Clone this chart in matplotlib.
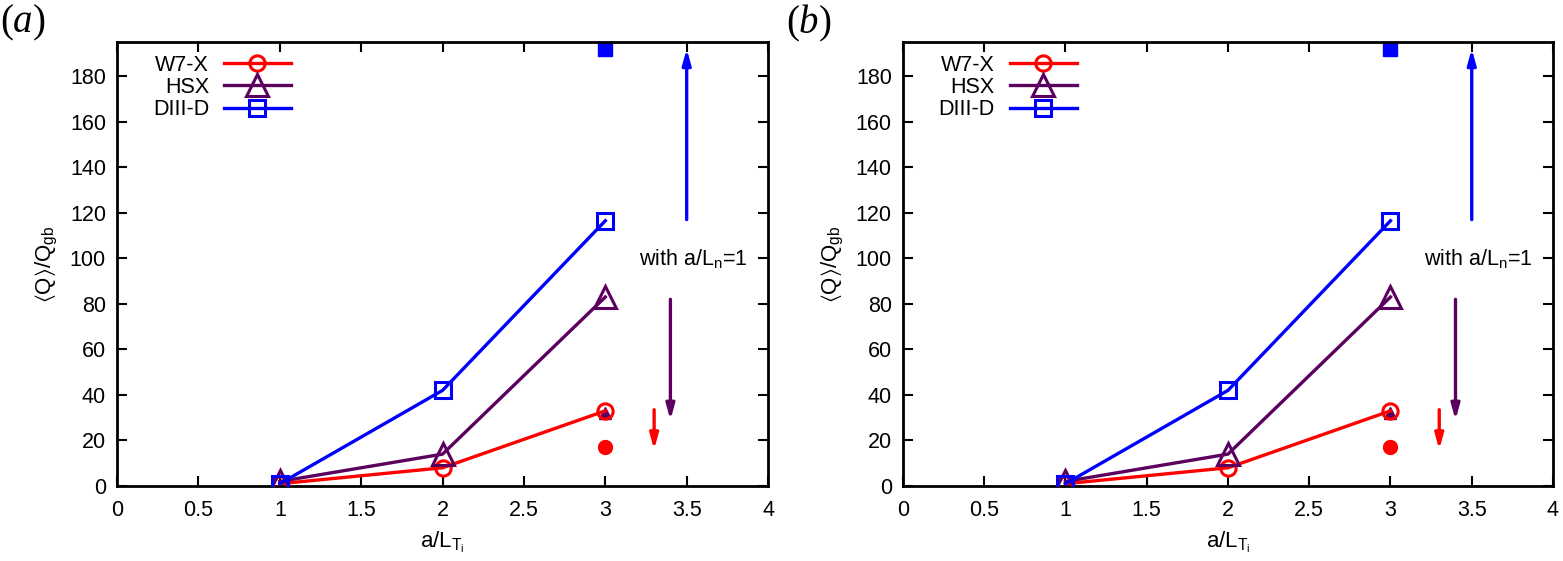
import matplotlib
matplotlib.use('Agg')
import matplotlib.pyplot as plt

plt.rcParams['font.family'] = ['Liberation Sans', 'DejaVu Sans']
plt.rcParams['mathtext.fontset'] = 'custom'
plt.rcParams['mathtext.rm'] = 'Liberation Sans'
plt.rcParams['mathtext.it'] = 'Liberation Serif:italic'
plt.rcParams['mathtext.fallback'] = 'stixsans'

# data
a_LTi = [1, 2, 3]
w7x = [1, 8, 33]
hsx = [2, 14, 83]
d3d = [1, 42, 116.5]
# a/L_n = 1 points at a/L_Ti = 3
x_ln = 3
w7x_ln = 17
hsx_ln = 32
d3d_ln = 192

RED = '#ff0000'
PURPLE = '#5c0060'
BLUE = '#0000ff'


def draw_panel(ax, tag):
  ax.plot(a_LTi, w7x, '-o', color=RED, lw=2.4, ms=11, mfc='none', mew=2.2, label='W7-X', zorder=3)
  ax.plot(a_LTi, hsx, '-^', color=PURPLE, lw=2.4, ms=16, mfc='none', mew=2.2, label='HSX', zorder=3)
  ax.plot(a_LTi, d3d, '-s', color=BLUE, lw=2.4, ms=11, mfc='none', mew=2.2, label='DIII-D', zorder=3)

  ax.plot([x_ln], [w7x_ln], 'o', color=RED, ms=10, clip_on=False)
  ax.plot([x_ln], [hsx_ln], '^', color=PURPLE, ms=9, clip_on=False)
  ax.plot([x_ln], [d3d_ln], 's', color=BLUE, ms=10, clip_on=False)

  # arrows showing the change with a/L_n = 1
  for x0, y0, y1, c in [(3.5, 117, 192, BLUE), (3.4, 82, 29, PURPLE), (3.3, 33.5, 16, RED)]:
    ax.annotate('', xy=(x0, y1), xytext=(x0, y0),
                arrowprops=dict(arrowstyle='-|>,head_length=0.9,head_width=0.25',
                                color=c, lw=2.4, shrinkA=0, shrinkB=0))
  ax.text(3.54, 100, r'with a/L$_{\rm n}$=1', ha='center', va='center', fontsize=15.5)

  ax.set_xlim(0, 4)
  ax.set_ylim(0, 195)
  ax.set_xticks([0, 0.5, 1, 1.5, 2, 2.5, 3, 3.5, 4])
  ax.set_xticklabels(['0', '0.5', '1', '1.5', '2', '2.5', '3', '3.5', '4'])
  ax.set_yticks(range(0, 181, 20))
  ax.tick_params(direction='in', top=True, right=True, length=7, width=1.5, labelsize=15.5)
  ax.tick_params(axis='x', pad=10)
  ax.tick_params(axis='y', pad=8)
  for s in ax.spines.values():
    s.set_linewidth(2)
  ax.set_xlabel(r'a/L$_{\rm T_i}$', fontsize=16, labelpad=6)
  ax.set_ylabel(r'$\langle$Q$\rangle$/Q$_{\rm gb}$', fontsize=16, labelpad=8)

  ax.legend(loc='upper left', markerfirst=False, frameon=False, fontsize=15.5,
            handlelength=3.1, handletextpad=0.7, labelspacing=0.05,
            borderaxespad=0.2, bbox_to_anchor=(0.035, 1.0))


fig = plt.figure(figsize=(15.63, 5.61), dpi=100)
ax1 = fig.add_axes([0.0749, 0.1337, 0.4165, 0.7914])
ax2 = fig.add_axes([0.5777, 0.1337, 0.4159, 0.7914])
draw_panel(ax1, '($a$)')
draw_panel(ax2, '($b$)')
fig.text(0.0, 0.995, '($a$)', fontsize=28, family=['Liberation Serif'], ha='left', va='top')
fig.text(0.503, 0.995, '($b$)', fontsize=28, family=['Liberation Serif'], ha='left', va='top')

fig.savefig('out.png', dpi=100)
